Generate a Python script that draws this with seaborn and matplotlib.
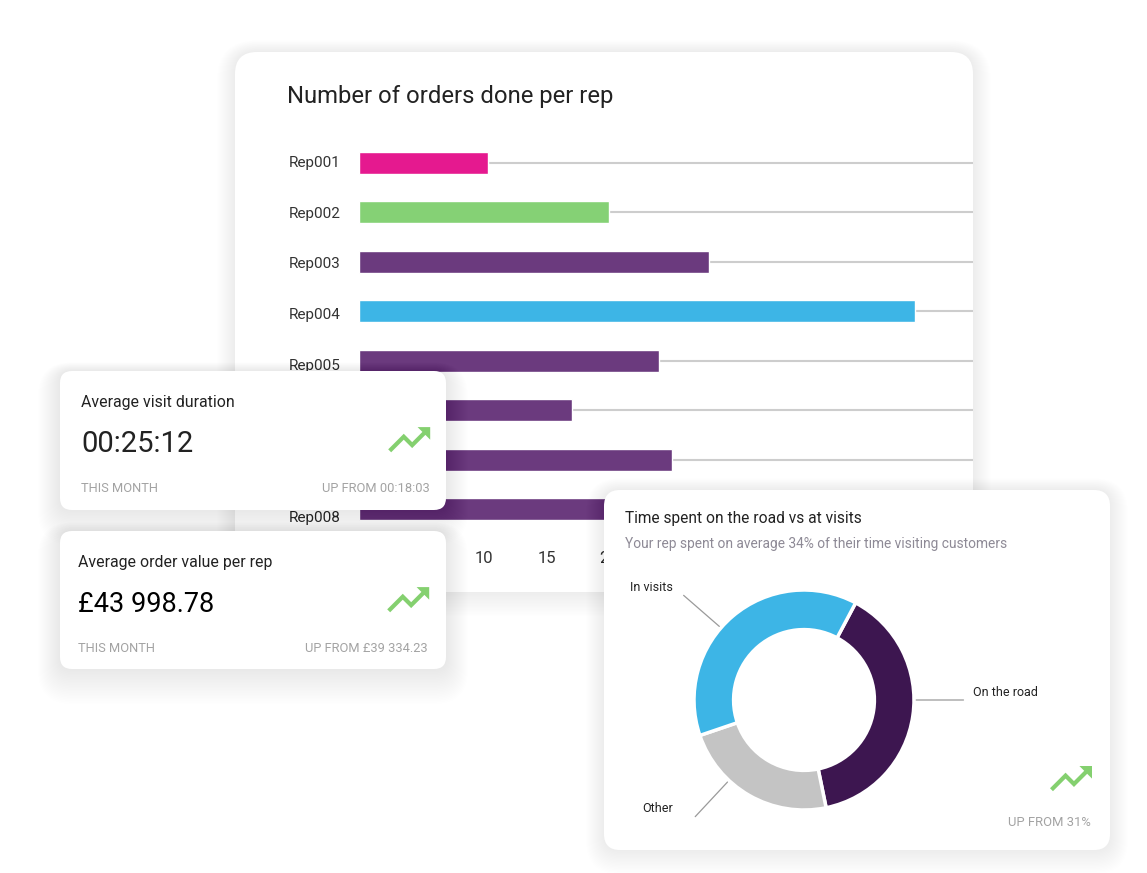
"""
Sales rep dashboard mock-up: orders per rep (bar), two KPI cards, time split donut.
"""
import numpy as np
import matplotlib.pyplot as plt
import matplotlib.transforms as mtransforms
import seaborn as sns
from matplotlib.patches import FancyBboxPatch, Polygon

sns.set_theme(style="white")
plt.rcParams['font.family'] = ['Roboto', 'DejaVu Sans']

# Data
reps = ["Rep001", "Rep002", "Rep003", "Rep004", "Rep005", "Rep006", "Rep007", "Rep008"]
orders = [10.3, 20, 28, 44.5, 24, 17, 25, 22]
rep_colors = ["#E5198F", "#85D175", "#6B3A7E", "#3DB5E6", "#6B3A7E", "#6B3A7E", "#6B3A7E", "#6B3A7E"]
x_ticks = [0, 5, 10, 15, 20, 25, 30, 35, 40, 45]

time_labels = ["On the road", "Other", "In visits"]
time_share = [39, 23, 38]
time_colors = ["#3D1650", "#C4C4C4", "#3DB5E6"]

kpi_titles = ["Average visit duration", "Average order value per rep"]
kpi_values = ["00:25:12", "£43 998.78"]
kpi_previous = ["UP FROM 00:18:03", "UP FROM £39 334.23"]
donut_note = "UP FROM 31%"

W, H = 1147, 873
fig = plt.figure(figsize=(W / 100, H / 100), dpi=100)
fig.patch.set_facecolor("white")

GREEN = "#84D06F"
GREY_TXT = "#A3A3A3"
DARK = "#222222"


def layer(z):
    """Full-figure transparent axes in pixel coordinates (y down)."""
    ax = fig.add_axes([0, 0, 1, 1], zorder=z)
    ax.set_xlim(0, W)
    ax.set_ylim(H, 0)
    ax.axis("off")
    ax.patch.set_alpha(0)
    return ax


def card(ax, x0, y0, x1, y1, r, spread=16, strength=0.10, drop=0.35):
    # soft shadow: stacked translucent boxes
    for k in range(1, spread + 1):
        ax.add_patch(FancyBboxPatch((x0, y0 + k * drop), x1 - x0, y1 - y0,
                                    boxstyle=f"round,pad={k},rounding_size={r + k}",
                                    facecolor="black", edgecolor="none",
                                    alpha=strength / spread))
    ax.add_patch(FancyBboxPatch((x0, y0), x1 - x0, y1 - y0,
                                boxstyle=f"round,pad=0,rounding_size={r}",
                                facecolor="white", edgecolor="none"))


# material "trending up" icon, 24x24 box
ICON = np.array([(16, 6), (18.29, 8.29), (13.41, 13.17), (9.41, 9.17), (2, 16.59),
                 (3.41, 18), (9.41, 12), (13.41, 16), (19.71, 9.71), (22, 12), (22, 6)])


def trend_icon(ax, ox, oy, s=2.1):
    ax.add_patch(Polygon(ICON * s + [ox, oy], closed=True, facecolor=GREEN, edgecolor="none"))


# Main card with bar chart
L0 = layer(0)
card(L0, 235, 52, 973, 592, 22, spread=18, strength=0.07)
L0.text(287, 96, "Number of orders done per rep", fontsize=17.2, color=DARK, va="center")

ax = fig.add_axes([359 / W, 1 - 534 / H, 614 / W, 396 / H], zorder=1)
ax.patch.set_alpha(0)
sns.barplot(x=orders, y=reps, hue=reps, palette=rep_colors, legend=False,
            saturation=1, width=0.45, orient="h", ax=ax, zorder=3)
ax.set_xlim(0, 614 / 12.5)
ax.set_ylim(7.5, -0.5)
ax.set_xticks(x_ticks)
ax.yaxis.grid(True, color="#CDCDCD", linewidth=1.5)
ax.xaxis.grid(False)
ax.set_axisbelow(True)
sns.despine(ax=ax, left=True, bottom=True)
ax.tick_params(axis="y", length=0, pad=13, labelsize=11, labelcolor="#333333")
ax.tick_params(axis="x", length=0, pad=12, labelsize=12, labelcolor="#333333")
# labels in the original drift a little lower than their bars
for i, lab in enumerate(ax.get_yticklabels()):
    lab.set_va("center_baseline")
    shift = mtransforms.ScaledTranslation(0, -(i * 1.3 - 1.5) / 100, fig.dpi_scale_trans)
    lab.set_transform(lab.get_transform() + shift)
ax.set_xlabel("")
ax.set_ylabel("")

# KPI cards
L1 = layer(2)
kpi_boxes = [(60, 371, 446, 510), (60, 531, 446, 669)]
kpi_colors = [DARK, "#000000"]
kpi_sizes = [21, 19.5]
for i, (x0, y0, x1, y1) in enumerate(kpi_boxes):
    card(L1, x0, y0, x1, y1, 12, spread=22, strength=0.12, drop=0.6)
    tx = x0 + 21 - 3 * i
    L1.text(tx, y0 + 31, kpi_titles[i], fontsize=11.4, color=DARK, va="center")
    L1.text(tx, y0 + 73, kpi_values[i], fontsize=kpi_sizes[i], color=kpi_colors[i], va="center")
    L1.text(tx, y0 + 117, "THIS MONTH", fontsize=9.3, color=GREY_TXT, va="center")
    L1.text(x1 - 16 - 2 * i, y0 + 117, kpi_previous[i], fontsize=9.3, color=GREY_TXT,
            va="center", ha="right")
    trend_icon(L1, x1 - 62 - i, y0 + 43.5)

# Donut card
L2 = layer(3)
card(L2, 604, 490, 1110, 850, 16, spread=18, strength=0.09)
L2.text(625, 518, "Time spent on the road vs at visits", fontsize=11.2, color=DARK, va="center")
L2.text(625, 544, "Your rep spent on average 34% of their time visiting customers",
        fontsize=9.9, color="#8E8A96", va="center")
L2.text(1091, 822, donut_note, fontsize=9.4, color=GREY_TXT, va="center", ha="right")
trend_icon(L2, 1045.8, 753.4)

dax = fig.add_axes([694 / W, 1 - 810 / H, 220 / W, 220 / H], zorder=4)
wedges, _ = dax.pie(time_share, colors=time_colors, startangle=62, counterclock=False,
                    wedgeprops=dict(width=0.36, edgecolor="white", linewidth=2.5))
dax.set_xlim(-1, 1)
dax.set_ylim(-1, 1)
dax.set_aspect("equal")
dax.axis("off")
# leader-line directions (deg) and text nudges for each label
label_angles = [0, -133, 139]
label_dx = [0.09, -0.2, -0.1]
for lab, a, dx in zip(time_labels, label_angles, label_dx):
    ang = np.deg2rad(a)
    c, s = np.cos(ang), np.sin(ang)
    ex, ey = 1.45 * c, 1.45 * s
    dax.annotate("", xy=(1.02 * c, 1.02 * s), xytext=(ex, ey),
                 arrowprops=dict(arrowstyle="-", color="#9A9A9A", lw=0.9,
                                 shrinkA=0, shrinkB=0),
                 annotation_clip=False)
    dax.text(ex + dx, ey + 0.07, lab, fontsize=9, color="#222222",
             ha="left" if c > 0 else "right", va="center", clip_on=False)

fig.savefig("out.png", dpi=100, facecolor="white")
